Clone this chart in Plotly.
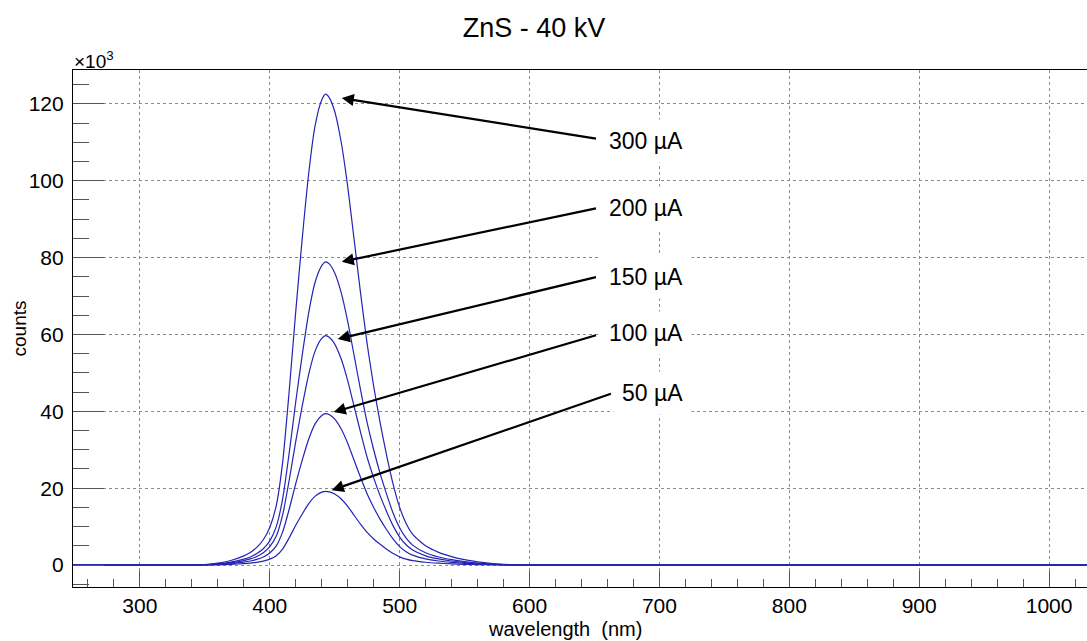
import plotly.graph_objects as go

# wavelength grid (nm)
wavelength = [248, 340, 350, 360, 370, 380, 385, 390, 395, 400, 405, 410, 415, 420, 425, 430, 435, 440,
              443, 446, 450, 455, 460, 465, 470, 475, 480, 485, 490, 495, 500, 505, 510, 520, 530, 540,
              550, 560, 570, 580, 590, 600, 1030]

# counts in units of 10^3
counts_300uA = [0, 0, 0.15, 0.5, 1.2, 2.4, 3.3, 4.6, 6.6, 9.8, 15.5, 27, 45.5, 66, 85, 102, 114.5, 121,
                122.5, 121.5, 118, 110, 98.5, 84.5, 70.5, 57.5, 46.5, 37, 28.5, 21, 15, 10.8, 8.0, 5.0, 3.3, 2.2,
                1.4, 0.85, 0.45, 0.2, 0.05, 0, 0]
counts_200uA = [0, 0, 0.09, 0.32, 0.77, 1.55, 2.1, 3.0, 4.25, 6.3, 10.0, 17.4, 29.3, 42.5, 54.7, 65.7, 73.7, 77.9,
                78.9, 78.3, 76.0, 70.9, 63.4, 54.4, 45.4, 37.0, 30.0, 23.8, 18.4, 13.5, 9.7, 7.0, 5.2, 3.2, 2.1, 1.4,
                0.9, 0.54, 0.29, 0.13, 0.03, 0, 0]
counts_150uA = [0, 0, 0.07, 0.24, 0.59, 1.17, 1.6, 2.25, 3.2, 4.8, 7.55, 13.2, 22.2, 32.2, 41.4, 49.7, 55.8, 59.0,
                59.7, 59.2, 57.5, 53.6, 48.0, 41.2, 34.4, 28.0, 22.7, 18.0, 13.9, 10.2, 7.3, 5.3, 3.9, 2.4, 1.6, 1.07,
                0.68, 0.41, 0.22, 0.1, 0.02, 0, 0]
counts_100uA = [0, 0, 0.05, 0.16, 0.39, 0.77, 1.06, 1.48, 2.12, 3.15, 5.0, 8.7, 14.6, 21.2, 27.3, 32.8, 36.8, 38.9,
                39.4, 39.1, 37.95, 35.4, 31.7, 27.2, 22.7, 18.5, 15.0, 11.9, 9.2, 6.75, 4.8, 3.5, 2.6, 1.6, 1.06, 0.71,
                0.45, 0.27, 0.15, 0.06, 0.02, 0, 0]
counts_50uA = [0, 0, 0.02, 0.08, 0.19, 0.38, 0.52, 0.72, 1.03, 1.54, 2.43, 4.23, 7.13, 10.35, 13.3, 16.0, 17.95, 18.97,
               19.2, 19.04, 18.5, 17.2, 15.3, 12.9, 10.6, 8.5, 6.8, 5.4, 4.1, 3.0, 2.15, 1.55, 1.15, 0.74, 0.5, 0.33,
               0.21, 0.12, 0.07, 0.03, 0.01, 0, 0]

series = [counts_300uA, counts_200uA, counts_150uA, counts_100uA, counts_50uA]
labels = ["300 µA", "200 µA", "150 µA", "100 µA", "50 µA"]

# arrow heads / tails (nm, 10^3 counts) and label centres
arrow_head_x = [455.4, 455.4, 452.3, 449.2, 447.7]
arrow_head_y = [121.5, 78.9, 58.8, 39.8, 19.5]
arrow_tail_x = [652.3, 652.3, 652.3, 652.3, 663.8]
arrow_tail_y = [110.9, 92.9, 75.0, 59.9, 44.7]
label_x = [689.6, 689.6, 689.6, 689.6, 695.0]
label_y = [110.4, 92.9, 75.0, 60.3, 44.7]

x_range = [248.5, 1029.2]
y_range = [-5.7, 128.8]

FONT = "Liberation Sans, Arial"

fig = go.Figure()
for vals, lab in zip(series, labels):
    fig.add_trace(go.Scatter(x=wavelength, y=vals, mode="lines", name=lab,
                             line=dict(color="#2424b4", width=1.2, shape="spline", smoothing=0.6),
                             showlegend=False, hoverinfo="skip"))

annotations = []
for hx, hy, tx, ty in zip(arrow_head_x, arrow_head_y, arrow_tail_x, arrow_tail_y):
    annotations.append(dict(x=hx, y=hy, ax=tx, ay=ty, xref="x", yref="y", axref="x", ayref="y",
                            text="", showarrow=True, arrowhead=2, arrowsize=1.1, arrowwidth=2.2,
                            arrowcolor="black", standoff=0))
for lx, ly, lab in zip(label_x, label_y, labels):
    annotations.append(dict(x=lx, y=ly, xref="x", yref="y", text=lab, showarrow=False,
                            font=dict(family=FONT, size=23, color="black"),
                            bgcolor="white", borderpad=8, xanchor="center", yanchor="middle"))

annotations.append(dict(x=-0.001, y=1.019, xref="paper", yref="paper", text="×10<sup>3</sup>", showarrow=False,
                        xanchor="left", yanchor="middle",
                        font=dict(family=FONT, size=19, color="black")))
annotations.append(dict(x=-0.0523, y=0.5, xref="paper", yref="paper", text="counts", showarrow=False,
                        textangle=-90, xanchor="center", yanchor="middle",
                        font=dict(family=FONT, size=19, color="black")))
annotations.append(dict(x=0.485, y=-0.0812, xref="paper", yref="paper", text="wavelength  (nm)",
                        showarrow=False, xanchor="center", yanchor="middle",
                        font=dict(family=FONT, size=20, color="black")))

axis_common = dict(showline=True, linecolor="black", linewidth=1.2, mirror=True,
                   showgrid=True, gridcolor="#8a8a8a", griddash="dot", gridwidth=1,
                   zeroline=False, ticks="inside", tickcolor="#555555",
                   tickfont=dict(family=FONT, size=21, color="black"))

fig.update_layout(
    width=1087, height=641,
    margin=dict(l=73, r=0, t=70, b=54),
    paper_bgcolor="white", plot_bgcolor="white",
    title=dict(text="ZnS - 40 kV", x=534 / 1087, y=1 - 28 / 641, xref="container", yref="container",
               xanchor="center", yanchor="middle",
               font=dict(family=FONT, size=27, color="black")),
    xaxis=dict(range=x_range, dtick=100, tick0=0, ticklen=16, tickwidth=1.3,
               minor=dict(dtick=20, ticklen=8, ticks="inside", tickcolor="#555555", showgrid=False),
               ticklabelstandoff=0, **axis_common),
    yaxis=dict(range=y_range, dtick=20, tick0=0, ticklen=31, tickwidth=1.3,
               minor=dict(dtick=5, ticklen=16, ticks="inside", tickcolor="#555555", showgrid=False),
               ticklabelstandoff=4, **axis_common),
    annotations=annotations,
)

fig.write_html("out.html")
